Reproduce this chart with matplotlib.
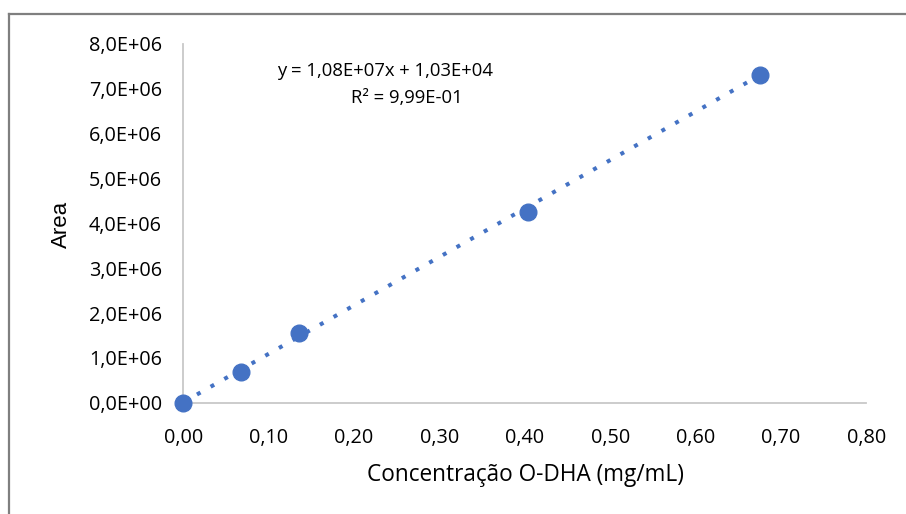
import matplotlib
matplotlib.use("Agg")
import matplotlib.pyplot as plt
from matplotlib.lines import Line2D
import numpy as np

# Data
conc = [0.00, 0.068, 0.1355, 0.404, 0.6755]
area = [0.0, 0.678e6, 1.548e6, 4.26e6, 7.315e6]
slope = 1.08e7
intercept = 1.03e4
eq_line1 = "y = 1,08E+07x + 1,03E+04"
eq_line2 = "R² = 9,99E-01"
xlabel = "Concentração O-DHA (mg/mL)"
ylabel = "Area"
xticks = [0.0, 0.1, 0.2, 0.3, 0.4, 0.5, 0.6, 0.7, 0.8]
yticks = [0, 1e6, 2e6, 3e6, 4e6, 5e6, 6e6, 7e6, 8e6]
xticklabels = ["0,00", "0,10", "0,20", "0,30", "0,40", "0,50", "0,60", "0,70", "0,80"]
yticklabels = ["0,0E+00", "1,0E+06", "2,0E+06", "3,0E+06", "4,0E+06",
               "5,0E+06", "6,0E+06", "7,0E+06", "8,0E+06"]

plt.rcParams['font.family'] = ['Open Sans', 'DejaVu Sans']
blue = "#4472C4"
fs = 14.3

W, H = 906, 514
fig = plt.figure(figsize=(W/100, H/100), dpi=100)
ax = fig.add_axes([183.3/W, 1-402.7/H, (866.3-183.3)/W, (402.7-44)/H])

xf = np.array([min(conc), max(conc)])
ax.plot(xf, slope*xf + intercept, color=blue, lw=2.9, linestyle=(0, (1, 2.9)),
        dash_capstyle='butt', zorder=2)
ax.plot(conc, area, 'o', color=blue, markersize=12, zorder=3, clip_on=False)

ax.set_xlim(0, 0.8)
ax.set_ylim(0, 8e6)
ax.set_xticks(xticks)
ax.set_yticks(yticks)
ax.set_xticklabels(xticklabels, fontsize=fs)
ax.set_yticklabels(yticklabels, fontsize=fs)
ax.tick_params(axis='y', length=0, pad=15.5)
ax.tick_params(axis='x', length=0, pad=18)
for s in ['top', 'right']:
    ax.spines[s].set_visible(False)
for s in ['left', 'bottom']:
    ax.spines[s].set_color('#c8c8c8')
    ax.spines[s].set_linewidth(1.3)

fig.text(525/W, 1-475/H, xlabel, fontsize=16.3, ha='center', va='center')
fig.text(61/W, 1-224/H, ylabel, fontsize=16, ha='center', va='center', rotation=90,
         family=['Liberation Sans', 'DejaVu Sans'])
ax.text(0.2366, 7.4e6, eq_line1, ha='center', va='center', fontsize=13.3)
ax.text(0.2624, 6.8e6, eq_line2, ha='center', va='center', fontsize=13.3)

# chart border (top and left visible)
fig.add_artist(Line2D([9/W, 9/W], [0, 1-14/H], transform=fig.transFigure, color='#7f7f7f', lw=1.6))
fig.add_artist(Line2D([9/W, 1], [1-14/H, 1-14/H], transform=fig.transFigure, color='#7f7f7f', lw=1.6))

fig.savefig("out.png", dpi=100)
